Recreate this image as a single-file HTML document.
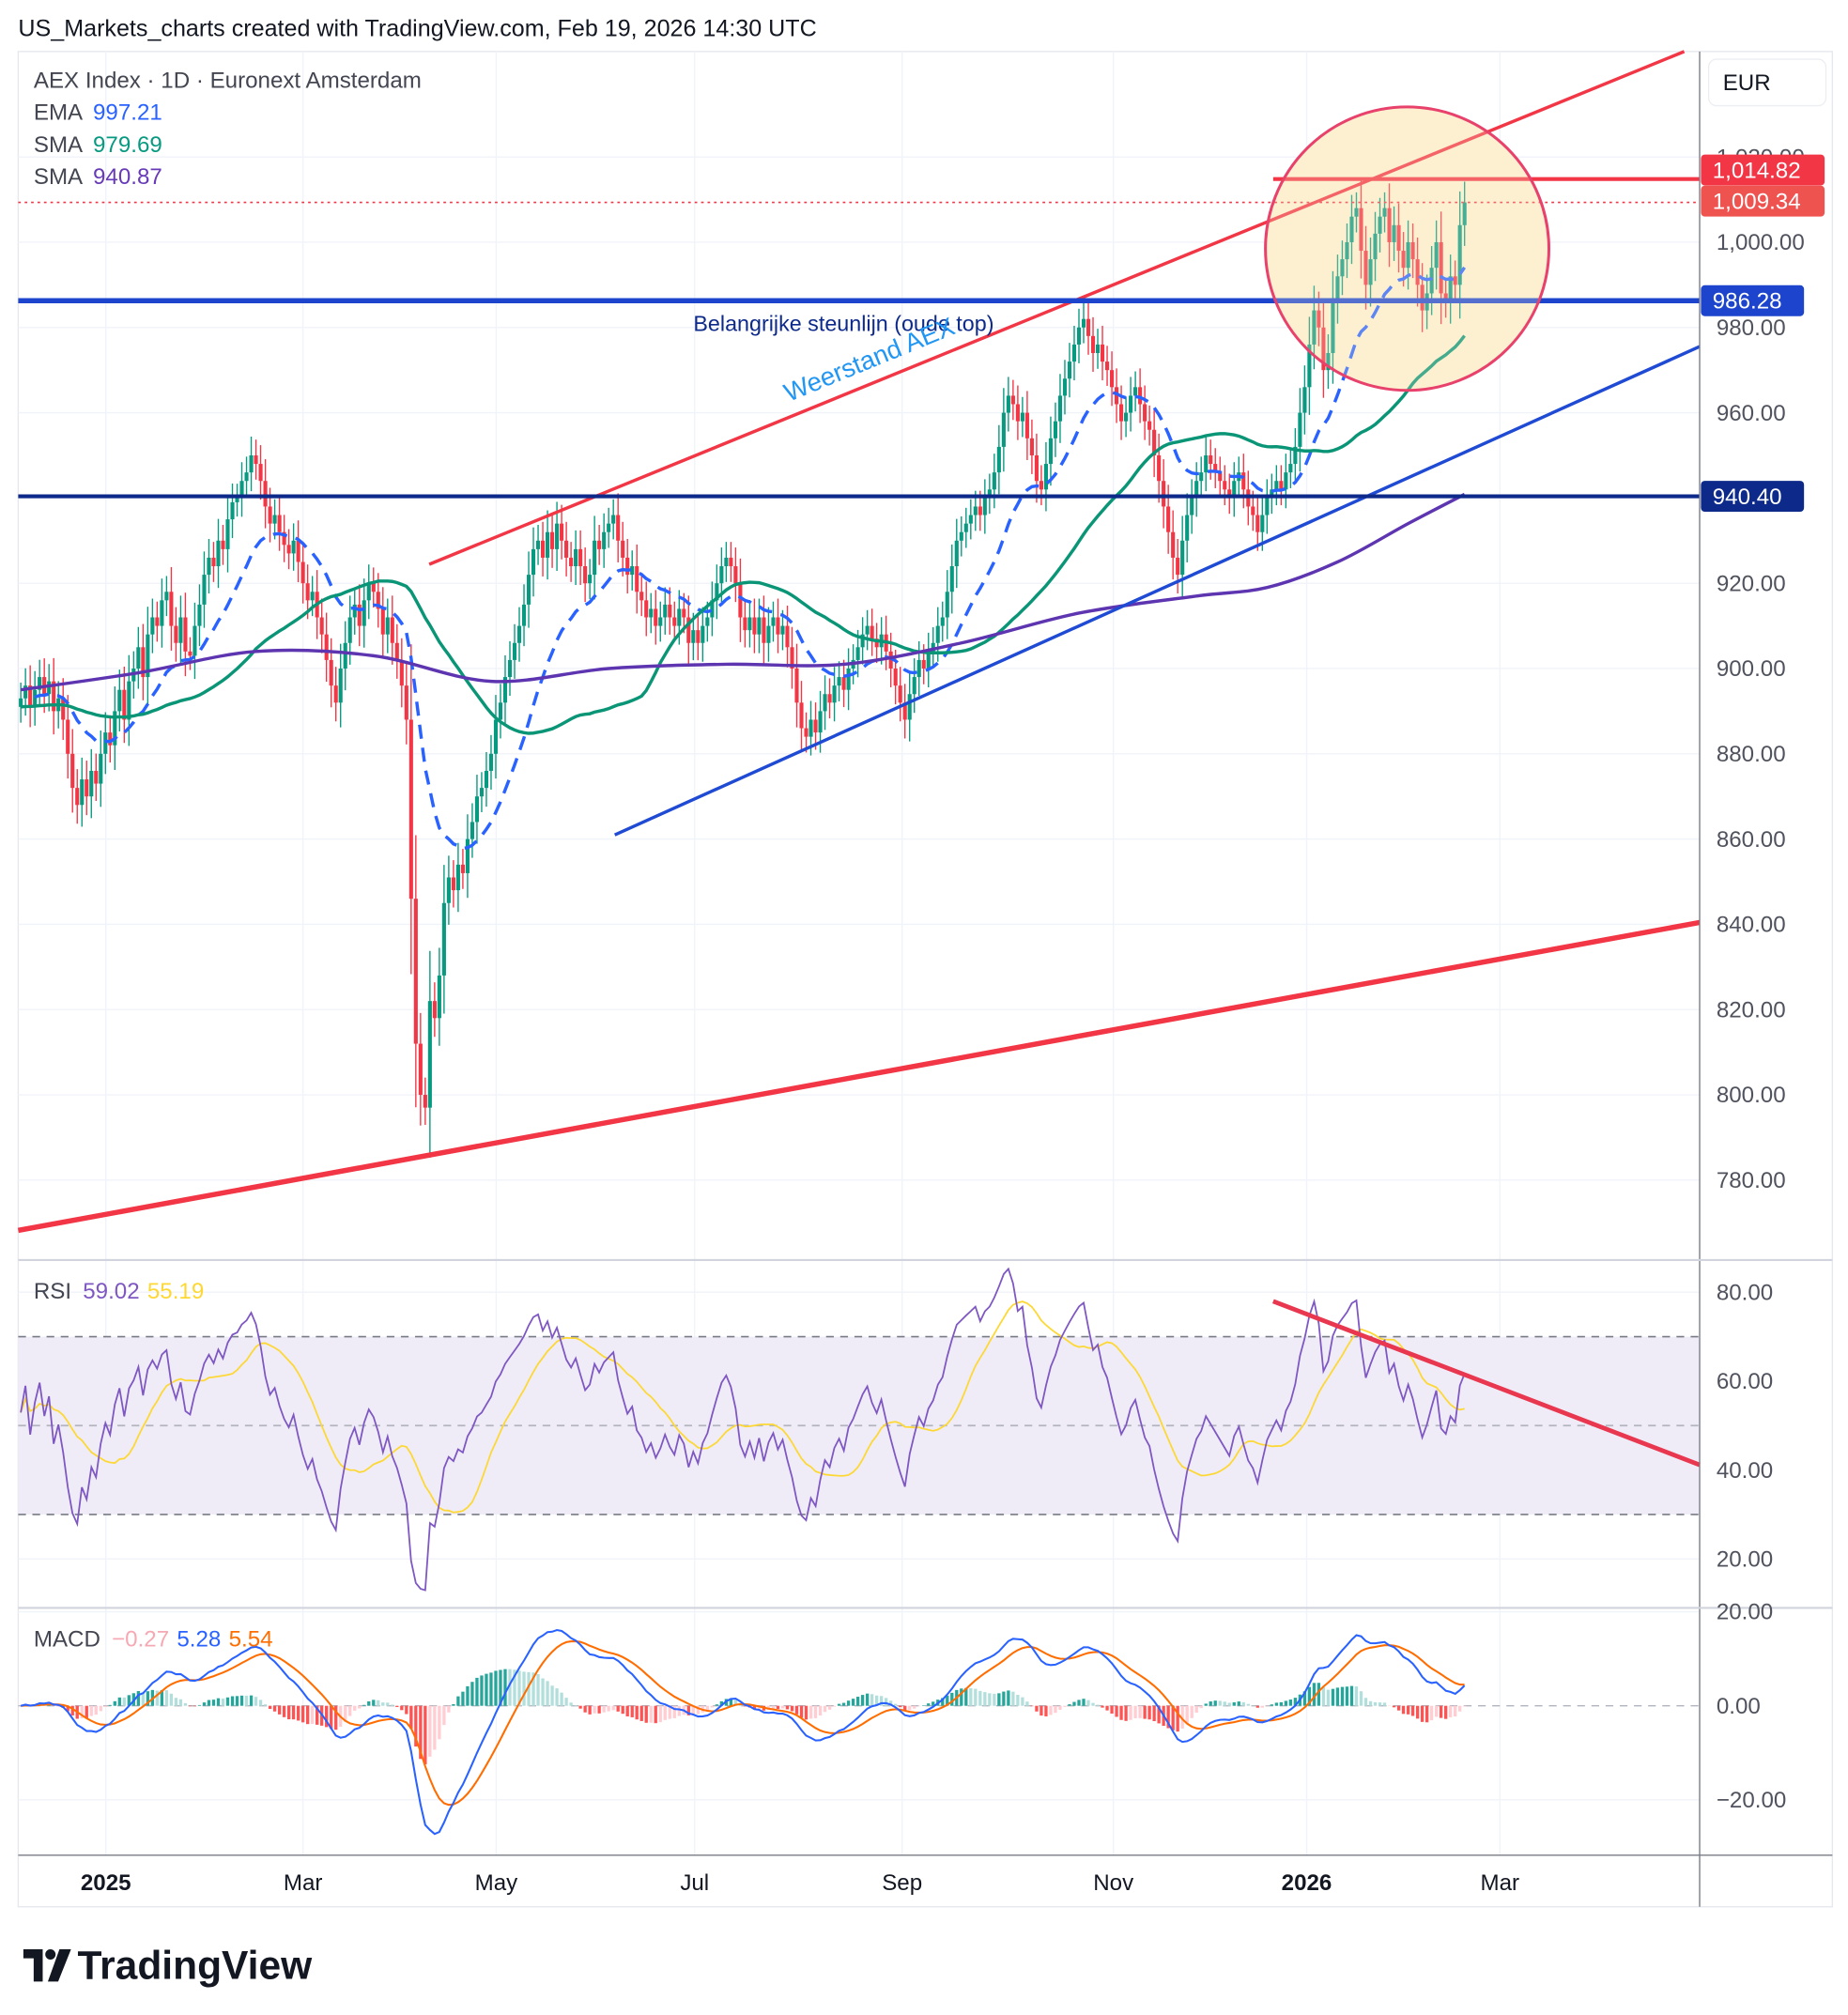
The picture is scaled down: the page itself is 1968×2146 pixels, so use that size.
<!DOCTYPE html>
<html><head><meta charset="utf-8">
<style>
html,body{margin:0;padding:0;background:#fff;}
svg{display:block;font-family:"Liberation Sans",sans-serif;}
</style></head>
<body>
<svg id="chart" width="1968" height="2146" viewBox="0 0 1434 1564" xmlns="http://www.w3.org/2000/svg">
<rect x="0" y="0" width="1434" height="1564" fill="#ffffff"/>
<text x="14" y="28" font-size="18.3" fill="#131722">US_Markets_charts created with TradingView.com, Feb 19, 2026 14:30 UTC</text>
<rect x="14" y="40" width="1408" height="1440" fill="none" stroke="#e6e8ee" stroke-width="1"/>
<g id="grid"></g>
<g id="bg"></g>
<g id="marks"></g>
<g id="over"></g>
<g id="axes"></g>
<!-- legend -->
<text x="26" y="68" font-size="17.6" fill="#434651">AEX Index · 1D · Euronext Amsterdam</text>
<text x="26" y="93" font-size="17.6" fill="#434651">EMA <tspan fill="#2962ff" dx="4">997.21</tspan></text>
<text x="26" y="118" font-size="17.6" fill="#434651">SMA <tspan fill="#089981" dx="4">979.69</tspan></text>
<text x="26" y="143" font-size="17.6" fill="#434651">SMA <tspan fill="#673ab7" dx="4">940.87</tspan></text>
<text x="26" y="1008" font-size="17.6" fill="#434651">RSI <tspan fill="#7e57c2" dx="4">59.02</tspan><tspan fill="#fdd835" dx="6">55.19</tspan></text>
<text x="26" y="1278" font-size="17.6" fill="#434651">MACD <tspan fill="#f7a9b3" dx="4">−0.27</tspan><tspan fill="#2962ff" dx="6">5.28</tspan><tspan fill="#ff6d00" dx="6">5.54</tspan></text>
<rect x="1326" y="46" width="91" height="36" rx="6" fill="#fff" stroke="#eceef2"/>
<text x="1337" y="70" font-size="17.6" fill="#131722">EUR</text>
<g>
<path d="M18 1513 h15 v25 h-7 v-18 h-8z" fill="#131722"/>
<circle cx="39" cy="1517" r="4" fill="#131722"/>
<path d="M46 1513 h9 l-10 25 h-8z" fill="#131722"/>
<text x="60" y="1536" font-size="31" font-weight="bold" fill="#131722">TradingView</text>
</g>
</svg>
<script>
// ---------- data ----------
const closes = [
893,896,891,895,898,894,897,890,893,888,
880,872,868,874,870,876,873,880,885,882,
890,895,888,897,900,905,898,908,912,910,
916,918,910,906,912,904,903,910,915,922,
926,924,930,928,935,939,940,944,946,950,
948,944,938,934,936,932,929,927,930,925,
920,916,918,912,908,902,896,892,900,906,
912,915,910,916,920,918,914,908,912,906,
902,896,888,846,812,800,797,822,818,828,
845,851,848,854,852,860,864,870,872,876,
880,888,892,898,902,906,910,915,922,928,
930,926,932,928,934,930,926,924,928,924,
920,922,930,928,932,934,936,930,926,922,
924,918,916,912,914,910,912,915,912,910,
914,912,906,909,906,910,912,916,920,924,
926,924,920,912,909,912,908,912,906,910,
912,908,910,905,900,892,886,884,888,885,
890,894,892,896,898,895,900,902,905,908,
910,907,905,908,904,900,896,892,888,894,
898,902,900,904,906,910,912,918,924,930,
932,934,936,938,936,940,942,946,952,960,
964,962,958,960,954,950,944,942,948,954,
958,964,968,972,976,980,982,978,974,976,
972,970,966,962,958,960,964,966,962,958,
956,950,944,938,932,926,922,930,936,940,
944,946,950,948,946,944,942,940,944,946,
942,938,936,932,936,940,942,944,942,946,
948,952,960,966,976,984,980,970,974,986,
992,996,1000,1006,1008,998,990,996,1002,1006,
1008,1000,1004,998,994,1000,996,990,984,988,
994,1000,988,986,992,990,1004,1009.34];
const sma200Idx = [0,25,50,75,100,125,150,175,200,225,250,265,280,295,307];
const sma200Val = [895,899,904,903,897,900,901,901,906,913,917,919,925,934,940.87];
const priceTicks = [1020,1000,980,960,920,900,880,860,840,820,800,780];
const rsiTicks = [80,60,40,20];
const macdTicks = [20,0,-20];
const timeLabels = ["2025","Mar","May","Jul","Sep","Nov","2026","Mar"];
const timeX = [82,235,385,539,700,864,1014,1164];
const timeBold = [true,false,false,false,false,false,true,false];

// ---------- scales ----------
const xB = i => 16 + i*3.65;
const yP = p => 188 + (1000-p)*3.309;
const yR = r => 1003 + (80-r)*3.45;
const yM = m => 1324 - m*3.65;
const NS='http://www.w3.org/2000/svg';
function mk(parent,tag,attrs){const e=document.createElementNS(NS,tag);for(const k in attrs)e.setAttribute(k,attrs[k]);document.getElementById(parent).appendChild(e);return e;}
function pathOf(arr,xf,yf,start){let d='';for(let i=start||0;i<arr.length;i++){if(arr[i]==null)continue;d+=(d?'L':'M')+xf(i).toFixed(1)+' '+yf(arr[i]).toFixed(1);}return d;}

// ---------- grid ----------
priceTicks.concat([940]).forEach(p=>{const l=mk('grid','line',{x1:14,x2:1319,y1:yP(p),y2:yP(p),stroke:'#f0f3fa'});

});
timeX.forEach(x=>{const l=mk('grid','line',{x1:x,x2:x,y1:40,y2:1440,stroke:'#f0f3fa'});

});
[1003,1072,1141,1210].forEach(y=>mk('grid','line',{x1:14,x2:1319,y1:y,y2:y,stroke:'#f0f3fa'}));
[1251,1397].forEach(y=>mk('grid','line',{x1:14,x2:1319,y1:y,y2:y,stroke:'#f0f3fa'}));

// ---------- background annotations ----------
const circ=mk('bg','ellipse',{cx:1092,cy:193,rx:110,ry:110,fill:'#fcf0d2'});


const band=mk('bg','rect',{x:14,y:yR(70),width:1305,height:yR(30)-yR(70),fill:'#efecf8'});


[70,50,30].forEach(v=>{const l=mk('bg','line',{x1:14,x2:1319,y1:yR(v),y2:yR(v),stroke:v==50?'#b2b5be':'#787b86','stroke-dasharray':'6,5','stroke-width':1.2});

});
const z=mk('bg','line',{x1:14,x2:1319,y1:yM(0),y2:yM(0),stroke:'#b2b5be','stroke-dasharray':'6,5'});



// ---------- indicators ----------
const n=closes.length;
function ema(a,p){const k=2/(p+1);const o=[];let e=a[0];for(let i=0;i<a.length;i++){e=i?a[i]*k+e*(1-k):a[0];o.push(e);}return o;}
function sma(a,p){const o=[];for(let i=0;i<a.length;i++){let s=0,c=0;for(let j=Math.max(0,i-p+1);j<=i;j++){s+=a[j];c++;}o.push(s/c);}return o;}
const ema20=ema(closes,20);
const sma50=sma(closes,50).map((v,i)=>i<50?v*(i/50)+891*(1-i/50):v);
// RSI
const rsi=[];let ag=0.9,al=0.8;
for(let i=0;i<n;i++){const d=i?closes[i]-closes[i-1]:0;ag=(ag*13+Math.max(d,0))/14;al=(al*13+Math.max(-d,0))/14;rsi.push(100-100/(1+ag/al));}
const rsiMa=sma(rsi,14);
const macd=ema(closes,12).map((v,i)=>v-ema(closes,26)[i]);
const sig=ema(macd,9);
const hist=macd.map((v,i)=>v-sig[i]);

// candles
for(let i=0;i<n;i++){
  const o=i?closes[i-1]:closes[0]-2, c=closes[i];
  const up=c>=o, col=up?'#089981':'#f23645';
  const w=Math.abs(c-o)*0.35+3;
  const hi=Math.max(o,c)+w, lo=Math.min(o,c)-w;
  const x=xB(i);
  const wick=mk('marks','line',{x1:x,x2:x,y1:yP(hi),y2:yP(lo),stroke:col,'stroke-width':1});
  
  
  const b=mk('marks','rect',{x:x-1.5,y:yP(Math.max(o,c)),width:3,height:Math.max(1,Math.abs(yP(o)-yP(c))),fill:col});
  
  
}
let l;
l=mk('marks','path',{d:pathOf(ema20,xB,yP,3),fill:'none',stroke:'#2962ff','stroke-width':2.5,'stroke-dasharray':'11,7'});


l=mk('marks','path',{d:pathOf(sma50,xB,yP),fill:'none',stroke:'#0a9577','stroke-width':2.5});


// sma200 smooth
{let pts=sma200Idx.map((ix,k)=>[xB(ix),yP(sma200Val[k])]);let d='M'+pts[0].join(' ');
for(let k=0;k<pts.length-1;k++){const p0=pts[k-1]||pts[k],p1=pts[k],p2=pts[k+1],p3=pts[k+2]||p2;
d+=`C${p1[0]+(p2[0]-p0[0])/6} ${p1[1]+(p2[1]-p0[1])/6} ${p2[0]-(p3[0]-p1[0])/6} ${p2[1]-(p3[1]-p1[1])/6} ${p2[0]} ${p2[1]}`;}
l=mk('marks','path',{d:d,fill:'none',stroke:'#5e35b1','stroke-width':2.5});

}
// RSI lines
l=mk('marks','path',{d:pathOf(rsiMa,xB,yR),fill:'none',stroke:'#fdd835','stroke-width':1.3});


l=mk('marks','path',{d:pathOf(rsi,xB,yR),fill:'none',stroke:'#7e57c2','stroke-width':1.3});


// MACD histogram
for(let i=0;i<n;i++){const h=hist[i],pv=i?hist[i-1]:0;
 const col=h>=0?(h>=pv?'#26a69a':'#b2dfdb'):(h<pv?'#ff5252':'#ffcdd2');
 const r=mk('marks','rect',{x:xB(i)-1.2,y:Math.min(yM(h),yM(0)),width:2.4,height:Math.abs(yM(h)-yM(0)),fill:col});
 
 }
l=mk('marks','path',{d:pathOf(sig,xB,yM),fill:'none',stroke:'#ff6d00','stroke-width':1.5});


l=mk('marks','path',{d:pathOf(macd,xB,yM),fill:'none',stroke:'#2962ff','stroke-width':1.5});



// ---------- drawings over ----------
function ln(name,x1,y1,x2,y2,col,w,dash){const e=mk('over','line',{x1,y1,x2,y2,stroke:col,'stroke-width':w});if(dash)e.setAttribute('stroke-dasharray',dash);

return e;}
ln('resistance-trendline',333,438,1307,40,'#f23645',2.5);
ln('support-trendline',477,648,1319,269,'#1f4ad4',2.5);
ln('long-term-trendline',14,955,1319,716,'#f23645',4);
ln('support-line-986',14,yP(986.28),1319,yP(986.28),'#1c44cc',4);
ln('support-line-940',14,yP(940.4),1319,yP(940.4),'#0d2a8a',3);
ln('resistance-line-1014',988,yP(1014.82),1319,yP(1014.82),'#f23645',3);
ln('last-price-line',14,yP(1009.34),1319,yP(1009.34),'#f23645',1.2,'2,3');
ln('rsi-trendline',988,1010,1319,1137,'#e8374f',3.5);
const cs=mk('over','ellipse',{cx:1092,cy:193,rx:110,ry:110,fill:'#fcefcf','fill-opacity':0.25,stroke:'#e8416b','stroke-width':2.2});


let t=mk('over','text',{x:538,y:257,'font-size':17,fill:'#0d2a8a'});t.textContent='Belangrijke steunlijn (oude top)';


t=mk('over','text',{x:612,y:312,'font-size':20,fill:'#2196f3',transform:'rotate(-22.3 612 312)'});t.textContent='Weerstand AEX';



// ---------- axes ----------
mk('axes','line',{x1:1319,x2:1319,y1:40,y2:1480,stroke:'#787b86','stroke-width':1});
mk('axes','line',{x1:14,x2:1422,y1:1440,y2:1440,stroke:'#787b86','stroke-width':1});
mk('axes','line',{x1:14,x2:1422,y1:978,y2:978,stroke:'#d1d4dc','stroke-width':1.5});
mk('axes','line',{x1:14,x2:1422,y1:1248,y2:1248,stroke:'#d1d4dc','stroke-width':1.5});
function lab(name,x,y,s,col,bold){const e=mk('axes','text',{x,y,'font-size':17.6,fill:col||'#50535e'});if(bold)e.setAttribute('font-weight','bold');e.textContent=s;

return e;}
const fmt=v=>v.toLocaleString('en-US',{minimumFractionDigits:2,maximumFractionDigits:2});
priceTicks.forEach(p=>lab('price-tick',1332,yP(p)+6,fmt(p)));
rsiTicks.forEach(r=>lab('rsi-tick',1332,yR(r)+6,fmt(r)));
macdTicks.forEach(m=>lab('macd-tick',1332,yM(m)+6,(m<0?'−':'')+fmt(Math.abs(m))));
timeLabels.forEach((s,k)=>{const e=lab('time-tick',timeX[k],1467,s,'#131722',timeBold[k]);e.setAttribute('text-anchor','middle');});
function tag(name,y,s,bg,w){const r=mk('axes','rect',{x:1320,y:y-12,width:w,height:24,rx:3,fill:bg});


lab(name+'-text',1329,y+6,s,'#ffffff');}
tag('price-tag-1014',yP(1014.82)-7,'1,014.82','#f23645',96);
tag('price-tag-1009',yP(1009.34)-1,'1,009.34','#ef5350',96);
tag('price-tag-986',yP(986.28),'986.28','#1c44cc',80);
tag('price-tag-940',yP(940.4),'940.40','#0d2a8a',80);
</script>
</body></html>
